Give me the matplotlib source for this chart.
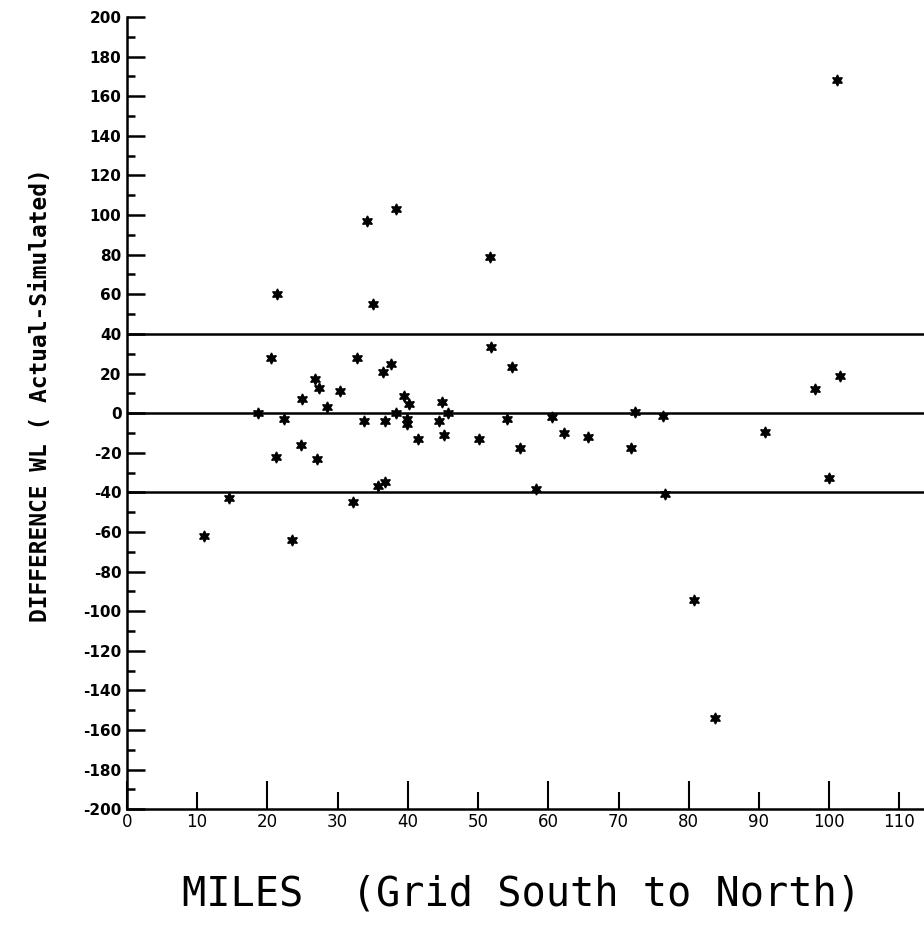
import numpy as np
import matplotlib
matplotlib.use("Agg")
import matplotlib.pyplot as plt
from matplotlib.ticker import MultipleLocator

plt.rcParams["axes.unicode_minus"] = False

# distance along grid (miles) and water-level difference (actual - simulated)
miles = [10.9, 14.6, 18.7, 20.5, 21.2, 21.4, 22.4, 23.5, 24.8, 24.9,
         26.8, 27.1, 27.4, 28.5, 30.4, 32.2, 32.7, 33.7, 34.2, 35.1,
         35.7, 36.4, 36.7, 36.8, 37.6, 38.3, 38.3, 39.4, 39.9, 39.9,
         40.2, 41.5, 44.4, 44.9, 45.2, 45.7, 50.1, 51.7, 51.8, 54.1,
         54.9, 56.0, 58.2, 60.5, 62.3, 65.7, 71.8, 72.4, 76.3, 76.6,
         80.7, 83.8, 90.8, 98.0, 100.0, 101.1, 101.6]
diff = [-62, -43, 0, 27.6, -22, 60, -3, -64, -16, 7,
        17, -23, 12.5, 3, 11, -45, 28, -4, 97, 55,
        -37, 21, -35, -4, 25, 103, 0, 8.5, -3, -5.5,
        4.5, -13, -4, 5.5, -11, 0, -13, 79, 33.5, -3,
        23.5, -17.5, -38.5, -2, -10, -12, -17.5, 0.8, -1.3, -40.6,
        -94.5, -154, -9.3, 12, -33, 168, 18.5]
ref_levels = [40, 0, -40]

xmaj = [0, 20, 40, 60, 80, 100]
xmin = [10, 30, 50, 70, 90, 110]

fig = plt.figure(figsize=(9.24, 9.27), dpi=100)
ax = fig.add_axes([0.1374, 0.127, 0.8626, 0.8547])

for lv in ref_levels:
    ax.axhline(lv, color="black", lw=1.8, zorder=1)

ax.plot(miles, diff, ls="none", marker=(6, 1, 0), ms=8, color="black",
        mec="black", zorder=3)

ax.set_xlim(0, 113.5)
ax.set_ylim(-200, 200)
for s in ["top", "right"]:
    ax.spines[s].set_visible(False)
for s in ["left", "bottom"]:
    ax.spines[s].set_linewidth(1.8)

ax.yaxis.set_major_locator(MultipleLocator(20))
ax.yaxis.set_minor_locator(MultipleLocator(10))
ax.set_xticks(xmaj, [str(v) for v in xmaj])
ax.set_xticks(xmin, [str(v) for v in xmin], minor=True)

ax.tick_params(axis="y", which="major", direction="in", length=13, width=1.8,
               labelsize=11, pad=4)
ax.tick_params(axis="y", which="minor", direction="in", length=6, width=1.8)
ax.tick_params(axis="x", which="major", direction="in", length=20, width=1.5,
               labelsize=12, pad=3)
ax.tick_params(axis="x", which="minor", direction="in", length=12, width=1.5,
               labelsize=12, pad=3)
for lab in ax.get_yticklabels():
    lab.set_fontweight("bold")

fig.text(0.044, 0.574, "DIFFERENCE WL ( Actual-Simulated)", fontsize=16.5,
         fontweight="bold", family="DejaVu Sans Mono", rotation=90,
         ha="center", va="center")
fig.text(0.564, 0.035, "MILES  (Grid South to North)", fontsize=29,
         family="DejaVu Sans Mono", ha="center", va="center")

fig.savefig("out.png", dpi=100)
